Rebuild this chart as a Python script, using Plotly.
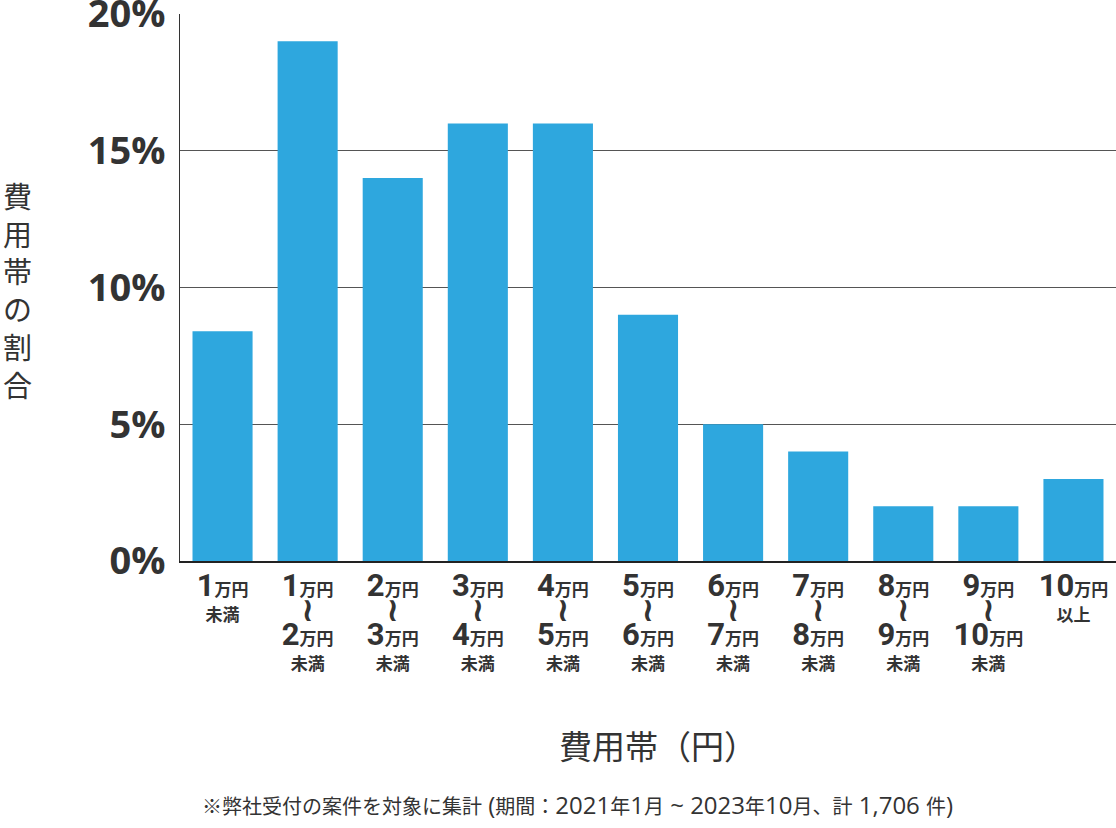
import re
import plotly.graph_objects as go

# 費用帯ごとの割合（%）
lower = ["1", "1", "2", "3", "4", "5", "6", "7", "8", "9", "10"]
upper = [None, "2", "3", "4", "5", "6", "7", "8", "9", "10", None]
share = [8.4, 19, 14, 16, 16, 9, 5, 4, 2, 2, 3]
y_ticks = [0, 5, 10, 15, 20]

note = "※弊社受付の案件を対象に集計 (期間：2021年1月 ~ 2023年10月、計 1,706 件)"

BAR = "#2ea7de"
TXT = "#333333"

NUM = ("<span style='font-size:31px'>{}</span>"
       "<span style='font-size:17px'>万円</span>")
SMALL = "<span style='font-size:17px'>{}</span>"
WAVE = "<span style='font-size:33px;font-family:DejaVu Sans'>≀</span>"


def make_label(lo, hi, i):
    if i == 0:
        return NUM.format(lo) + "<br>" + SMALL.format("未満")
    if hi is None:
        return NUM.format(lo) + "<br>" + SMALL.format("以上")
    return NUM.format(lo) + "<br>" + WAVE + "<br>" + NUM.format(hi) + "<br>" + SMALL.format("未満")


def latin_bigger(s, size):
    # 英数字部分だけ少し大きめのフォントで
    return re.sub(r"([ -~]+)",
                  lambda m: f"<span style='font-size:{size}px;font-family:Open Sans'>{m.group(1)}</span>", s)


cats = list(range(len(share)))
tick_text = [make_label(lo, hi, i) for i, (lo, hi) in enumerate(zip(lower, upper))]

fig = go.Figure()
fig.add_trace(go.Bar(
    x=cats,
    y=share,
    marker=dict(color=BAR, line=dict(width=0)),
    width=0.706,
))

fig.update_layout(
    width=1116,
    height=828,
    margin=dict(l=180, r=0, t=14, b=267),
    paper_bgcolor="white",
    plot_bgcolor="white",
    showlegend=False,
    font=dict(family="Noto Sans CJK JP, Noto Sans", color=TXT),
    xaxis=dict(
        tickmode="array",
        tickvals=cats,
        ticktext=tick_text,
        tickfont=dict(family="Roboto, Noto Sans CJK JP", size=19, color=TXT, weight="bold"),
        range=[-0.5, len(share) - 0.5],
        showgrid=False,
        showline=True,
        linecolor="#222222",
        linewidth=2,
        ticks="",
        ticklabelstandoff=10,
        automargin=False,
    ),
    yaxis=dict(
        range=[0, 20],
        tickmode="array",
        tickvals=y_ticks,
        ticktext=[f"{v}%" for v in y_ticks],
        tickfont=dict(family="Open Sans, Noto Sans", size=38, color=TXT, weight="bold"),
        ticklabeloverflow="allow",
        showgrid=True,
        gridcolor="#555555",
        gridwidth=1,
        zeroline=False,
        showline=True,
        linecolor="#333333",
        linewidth=1,
        ticks="",
        ticklabelstandoff=6,
        automargin=False,
    ),
)

fig.add_annotation(
    text="<br>".join("費用帯の割合"),
    xref="paper", yref="paper",
    x=-0.174, y=0.497,
    xanchor="center", yanchor="middle",
    showarrow=False,
    font=dict(size=29, color=TXT),
)
fig.add_annotation(
    text="費用帯（円）",
    xref="paper", yref="paper",
    x=0.511, y=-0.336,
    xanchor="center", yanchor="middle",
    showarrow=False,
    font=dict(size=33, color=TXT),
)
fig.add_annotation(
    text=latin_bigger(note, 24),
    xref="paper", yref="paper",
    x=0.4247, y=-0.446,
    xanchor="center", yanchor="middle",
    showarrow=False,
    font=dict(size=20, color=TXT),
)

# ページの余白（body の margin）を消して図を左上にぴったり合わせる
fig.write_html("out.html", config={"displayModeBar": False},
               post_script="document.body.style.margin='0';")
